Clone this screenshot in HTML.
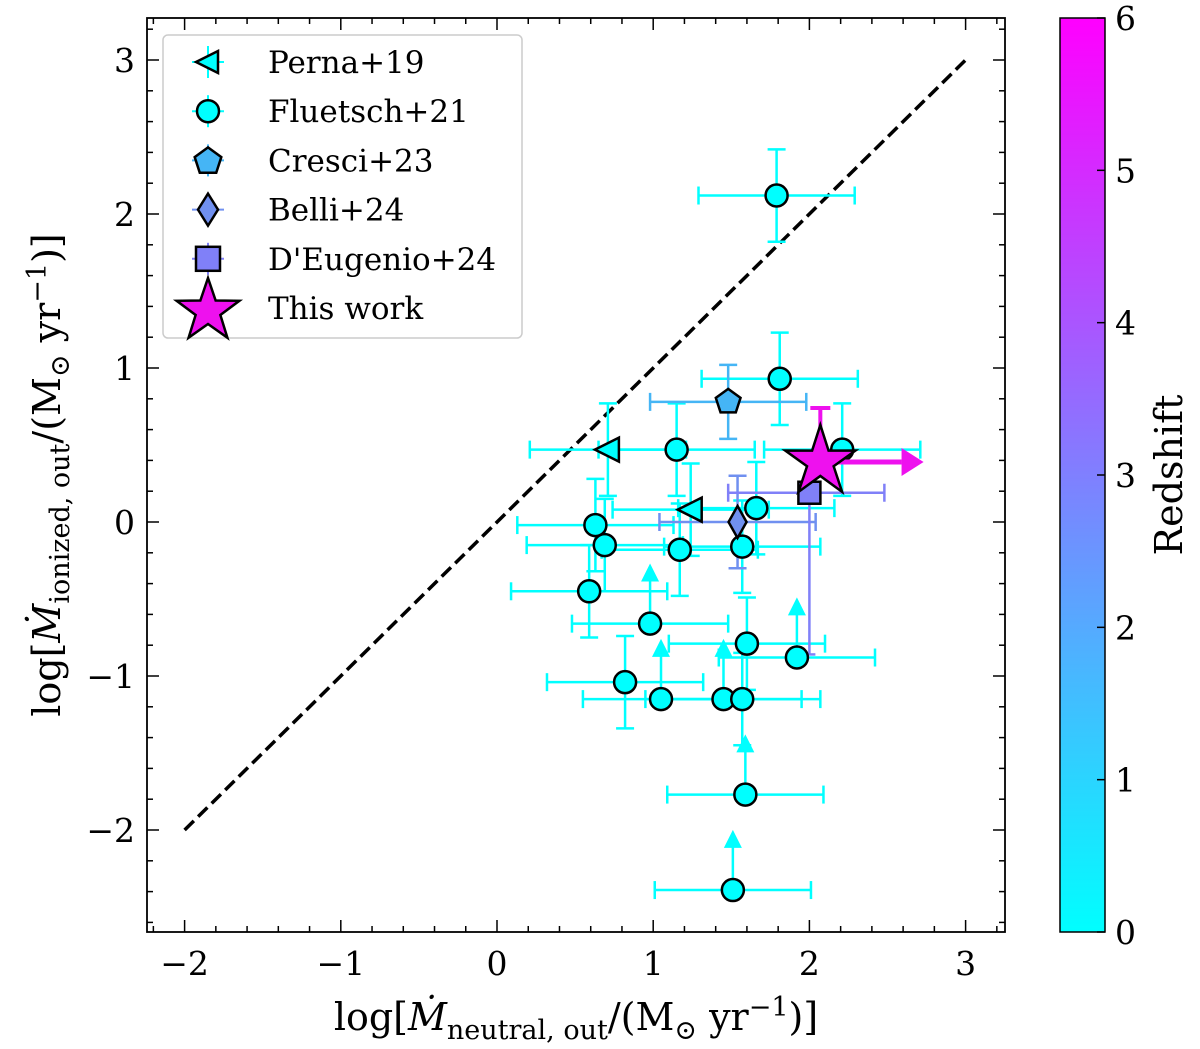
<!DOCTYPE html>
<html><head><meta charset="utf-8"><style>
body{margin:0;background:#fff;}
svg{display:block;font-family:"DejaVu Serif","Liberation Serif",serif;}
</style></head><body>
<svg id="chart" width="1200" height="1049"></svg>
<script>
// data
const fluX=[1.79,1.81,1.15,2.21,0.63,0.69,1.17,1.66,1.57,0.59,0.98,0.82,1.05,1.45,1.57,1.60,1.92,1.59,1.51];
const fluY=[2.12,0.93,0.47,0.47,-0.02,-0.15,-0.18,0.09,-0.16,-0.45,-0.66,-1.04,-1.15,-1.15,-1.15,-0.79,-0.88,-1.77,-2.39];
const fluLim=[0,0,0,0,0,0,0,0,0,0,1,0,1,1,0,0,1,1,1];
const pernaX=[0.71,1.24];
const pernaY=[0.47,0.08];
const cresciX=[1.48], cresciY=[0.78];
const belliX=[1.54], belliY=[0.0];
const deugX=[2.0], deugY=[0.19];
const starX=[2.07], starY=[0.39];
const xTicks=[-2,-1,0,1,2,3];
const yTicks=[-2,-1,0,1,2,3];
const cbTicks=[0,1,2,3,4,5,6];

const NS="http://www.w3.org/2000/svg";
const svg=document.getElementById('chart');
const X0=147,X1=1005,Y0=18,Y1=932;
const sx=v=>497+v*156.2, sy=v=>522-v*154;
function el(t,a,p){const e=document.createElementNS(NS,t);for(const k in a)e.setAttribute(k,a[k]);(p||svg).appendChild(e);return e;}
const C='#00ffff';
const defs=el('defs',{});
const g=el('linearGradient',{id:'cb',x1:0,y1:1,x2:0,y2:0},defs);
el('stop',{offset:0,'stop-color':'#00ffff'},g);el('stop',{offset:1,'stop-color':'#ff00ff'},g);
const diag=el('line',{x1:sx(-2),y1:sy(-2),x2:sx(3),y2:sy(3),stroke:'#000','stroke-width':3.5,'stroke-dasharray':'13,6'});

function errbar(x,y,xe,ye,col,lim){
  const gg=el('g',{stroke:col,'stroke-width':2.5,fill:col});
  
  el('line',{x1:sx(x-xe),y1:sy(y),x2:sx(x+xe),y2:sy(y)},gg);
  el('line',{x1:sx(x-xe),y1:sy(y)-9,x2:sx(x-xe),y2:sy(y)+9},gg);
  el('line',{x1:sx(x+xe),y1:sy(y)-9,x2:sx(x+xe),y2:sy(y)+9},gg);
  if(lim){
    el('line',{x1:sx(x),y1:sy(y),x2:sx(x),y2:sy(y+0.3)},gg);
    el('polygon',{points:`${sx(x)-9},${sy(y+0.3)+4} ${sx(x)+9},${sy(y+0.3)+4} ${sx(x)},${sy(y+0.3)-14}`,stroke:'none'},gg);
  } else if(ye){
    el('line',{x1:sx(x),y1:sy(y-ye),x2:sx(x),y2:sy(y+ye)},gg);
    el('line',{x1:sx(x)-9,y1:sy(y-ye),x2:sx(x)+9,y2:sy(y-ye)},gg);
    el('line',{x1:sx(x)-9,y1:sy(y+ye),x2:sx(x)+9,y2:sy(y+ye)},gg);
  }
}
fluX.forEach((x,i)=>errbar(x,fluY[i],0.5,0.3,C,fluLim[i]));
pernaX.forEach((x,i)=>errbar(x,pernaY[i],0.5,0.3,C,0));
cresciX.forEach((x,i)=>errbar(x,cresciY[i],0.5,0.24,'#45b5f5',0));
belliX.forEach((x,i)=>errbar(x,belliY[i],0.5,0.3,'#7090f0',0));
deugX.forEach((x,i)=>{const y=deugY[i];const gg=el('g',{stroke:'#8080f8','stroke-width':2.5});
 
 el('line',{x1:sx(x-0.52),y1:sy(y),x2:sx(x+0.48),y2:sy(y)},gg);
 el('line',{x1:sx(x-0.52),y1:sy(y)-9,x2:sx(x-0.52),y2:sy(y)+9},gg);
 el('line',{x1:sx(x+0.48),y1:sy(y)-9,x2:sx(x+0.48),y2:sy(y)+9},gg);
 el('line',{x1:sx(x),y1:sy(y),x2:sx(x),y2:sy(y-1.05)},gg);
 el('line',{x1:sx(x)-6,y1:sy(y-1.05),x2:sx(x)+6,y2:sy(y-1.05)},gg);});
fluX.forEach((x,i)=>{const c=el('circle',{cx:sx(x),cy:sy(fluY[i]),r:11,fill:C,stroke:'#000','stroke-width':2.5});
 });
pernaX.forEach((x,i)=>{const cx=sx(x),cy=sy(pernaY[i]);
 const p=el('polygon',{points:`${cx-13},${cy} ${cx+11},${cy-12} ${cx+11},${cy+12}`,fill:C,stroke:'#000','stroke-width':2.5});
 });
function pent(cx,cy,r){let s='';for(let k=0;k<5;k++){const a=-Math.PI/2+k*2*Math.PI/5;s+=`${cx+r*Math.cos(a)},${cy+r*Math.sin(a)} `;}return s;}
function star(cx,cy,R,r){let s='';for(let k=0;k<10;k++){const a=-Math.PI/2+k*Math.PI/5;const rr=k%2?r:R;s+=`${cx+rr*Math.cos(a)},${cy+rr*Math.sin(a)} `;}return s;}
cresciX.forEach((x,i)=>{const p=el('polygon',{points:pent(sx(x),sy(cresciY[i]),13),fill:'#45b5f5',stroke:'#000','stroke-width':2.5});
 });
belliX.forEach((x,i)=>{const cx=sx(x),cy=sy(belliY[i]);const p=el('polygon',{points:`${cx},${cy-16} ${cx+9},${cy} ${cx},${cy+16} ${cx-9},${cy}`,fill:'#7090f0',stroke:'#000','stroke-width':2.5});
 });
deugX.forEach((x,i)=>{const cx=sx(x),cy=sy(deugY[i]);const p=el('rect',{x:cx-11,y:cy-11,width:22,height:22,fill:'#8080f8',stroke:'#000','stroke-width':2.5});
 });
starX.forEach((x,i)=>{const cx=sx(x),cy=sy(starY[i]);const gg=el('g',{});
 
 el('line',{x1:cx,y1:cy,x2:cx,y2:sy(starY[i]+0.35),stroke:'#ee11ee','stroke-width':4},gg);
 el('line',{x1:cx-10,y1:sy(starY[i]+0.35),x2:cx+10,y2:sy(starY[i]+0.35),stroke:'#ee11ee','stroke-width':4},gg);
 el('line',{x1:cx,y1:cy,x2:sx(x+0.52),y2:cy,stroke:'#ee11ee','stroke-width':5},gg);
 el('polygon',{points:`${sx(x+0.52)},${cy-14} ${sx(x+0.52)+22},${cy} ${sx(x+0.52)},${cy+14}`,fill:'#ee11ee'},gg);
 el('polygon',{points:star(cx,cy,37,14),fill:'#ee11ee',stroke:'#000','stroke-width':2.5},gg);});
const fr=el('rect',{x:X0,y:Y0,width:X1-X0,height:Y1-Y0,fill:'none',stroke:'#000','stroke-width':1.8});

for(let v=-2.2;v<=3.21;v+=0.2){const px=sx(v);if(px<X0||px>X1)continue;const major=Math.abs(v-Math.round(v))<1e-6;const L=major?12:6;
 el('line',{x1:px,y1:Y1,x2:px,y2:Y1-L,stroke:'#000','stroke-width':1.5});el('line',{x1:px,y1:Y0,x2:px,y2:Y0+L,stroke:'#000','stroke-width':1.5});}
for(let v=-2.6;v<=3.21;v+=0.2){const py=sy(v);if(py<Y0||py>Y1)continue;const major=Math.abs(v-Math.round(v))<1e-6;const L=major?12:6;
 el('line',{x1:X0,y1:py,x2:X0+L,y2:py,stroke:'#000','stroke-width':1.5});el('line',{x1:X1,y1:py,x2:X1-L,y2:py,stroke:'#000','stroke-width':1.5});}
const lab=t=>t<0?'\u2212'+(-t):''+t;
xTicks.forEach(t=>{const e=el('text',{x:sx(t),y:975,'font-size':33,'text-anchor':'middle'});e.textContent=lab(t);
 });
yTicks.forEach(t=>{const e=el('text',{x:135,y:sy(t)+12,'font-size':33,'text-anchor':'end'});e.textContent=lab(t);
 });
const xt=el('text',{x:576,y:1030,'font-size':38,'text-anchor':'middle'});
xt.innerHTML='log[<tspan font-style="italic">Ṁ</tspan><tspan font-size="27" dy="9">neutral, out</tspan><tspan dy="-9">/(M</tspan><tspan font-size="27" dy="9">⊙</tspan><tspan dy="-9"> yr</tspan><tspan font-size="27" dy="-14">−1</tspan><tspan dy="14">)]</tspan>';

const yt=el('text',{x:0,y:0,'font-size':38,'text-anchor':'middle',transform:'translate(60,475) rotate(-90)'});
yt.innerHTML='log[<tspan font-style="italic">Ṁ</tspan><tspan font-size="27" dy="9">ionized, out</tspan><tspan dy="-9">/(M</tspan><tspan font-size="27" dy="9">⊙</tspan><tspan dy="-9"> yr</tspan><tspan font-size="27" dy="-14">−1</tspan><tspan dy="14">)]</tspan>';

const cb=el('rect',{x:1060,y:Y0,width:45,height:Y1-Y0,fill:'url(#cb)',stroke:'#000','stroke-width':1.5});

cbTicks.forEach(t=>{const py=Y1-t*(Y1-Y0)/6;el('line',{x1:1105,y1:py,x2:1097,y2:py,stroke:'#000','stroke-width':1.5});
 const e=el('text',{x:1115,y:py+12,'font-size':33});e.textContent=t;});
const cbt=el('text',{x:0,y:0,'font-size':38,'text-anchor':'middle',transform:'translate(1182,475) rotate(-90)'});
cbt.textContent='Redshift';
const lg=el('g',{});
el('rect',{x:163,y:35,width:359,height:303,rx:5,fill:'#fff',stroke:'#ccc','stroke-width':1.5},lg);
const names=['Perna+19','Fluetsch+21','Cresci+23','Belli+24',"D'Eugenio+24",'This work'];
const cols=[C,C,'#45b5f5','#7090f0','#8080f8','#ee11ee'];
names.forEach((n,i)=>{const y=62+i*49.2,cx=208;const ge=el('g',{},lg);
 
 el('line',{x1:cx-16,y1:y,x2:cx+16,y2:y,stroke:cols[i],'stroke-width':2},ge);
 el('line',{x1:cx,y1:y-16,x2:cx,y2:y+16,stroke:cols[i],'stroke-width':2},ge);
 if(i==0)el('polygon',{points:`${cx-12},${y} ${cx+10},${y-11} ${cx+10},${y+11}`,fill:C,stroke:'#000','stroke-width':2.5},ge);
 if(i==1)el('circle',{cx,cy:y,r:11,fill:C,stroke:'#000','stroke-width':2.5},ge);
 if(i==2)el('polygon',{points:pent(cx,y+1,14),fill:'#45b5f5',stroke:'#000','stroke-width':2.5},ge);
 if(i==3)el('polygon',{points:`${cx},${y-16} ${cx+10},${y} ${cx},${y+16} ${cx-10},${y}`,fill:'#7090f0',stroke:'#000','stroke-width':2.5},ge);
 if(i==4)el('rect',{x:cx-12,y:y-12,width:24,height:24,fill:'#8080f8',stroke:'#000','stroke-width':2.5},ge);
 if(i==5)el('polygon',{points:star(cx,y+3,33,13),fill:'#ee11ee',stroke:'#000','stroke-width':2.5},ge);
 const t=el('text',{x:268,y:y+11,'font-size':31},ge);t.textContent=n;});
</script>
</body></html>
